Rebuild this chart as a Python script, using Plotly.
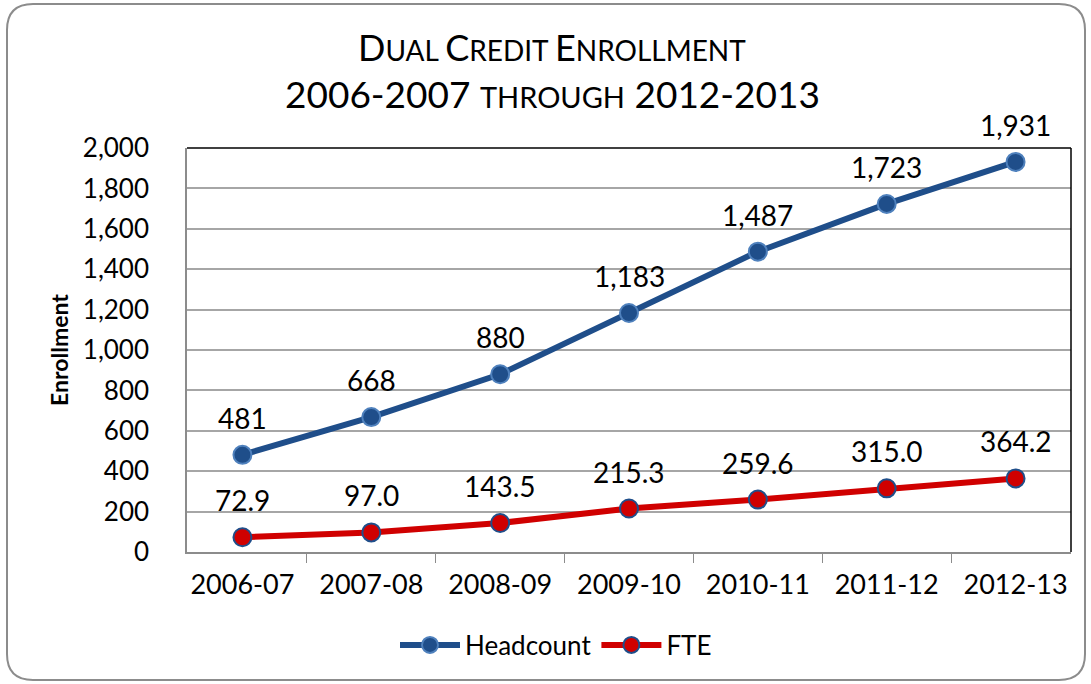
import plotly.graph_objects as go

years = ["2006-07", "2007-08", "2008-09", "2009-10", "2010-11", "2011-12", "2012-13"]
headcount = [481, 668, 880, 1183, 1487, 1723, 1931]
fte = [72.9, 97.0, 143.5, 215.3, 259.6, 315.0, 364.2]
y_ticks = [0, 200, 400, 600, 800, 1000, 1200, 1400, 1600, 1800, 2000]

FONT = "Lato, 'Noto Sans', sans-serif"
BLUE = "#1F4E8A"
BLUE_EDGE = "#4F81BD"
RED = "#D00000"

W, H = 1091, 684
L, R, T, B = 187, 20, 148, 132
pw, ph = W - L - R, H - T - B


def px(x):
    return (x - L) / pw


def py(y):
    return (H - B - y) / ph


fig = go.Figure()
fig.add_trace(go.Scatter(
    x=years, y=headcount, name="Headcount", mode="lines+markers",
    line=dict(color=BLUE, width=6),
    marker=dict(size=18, color=BLUE, line=dict(color=BLUE_EDGE, width=2)),
))
fig.add_trace(go.Scatter(
    x=years, y=fte, name="FTE", mode="lines+markers",
    line=dict(color=RED, width=6),
    marker=dict(size=18, color=RED, line=dict(color=BLUE, width=2)),
))

for yr, v in zip(years, headcount):
    fig.add_annotation(x=yr, y=v, text=f"{v:,}", showarrow=False,
                       yshift=37, font=dict(size=28, color="black", family=FONT))
for yr, v in zip(years, fte):
    fig.add_annotation(x=yr, y=v, text=f"{v:.1f}", showarrow=False,
                       yshift=37, font=dict(size=28, color="black", family=FONT))

# rounded outer frame
x0, x1, y0, y1, r = 7, 1085, 4, 680, 26
rx, ry = r / pw, r / ph
path = (
    f"M {px(x0) + rx},{py(y0)} L {px(x1) - rx},{py(y0)} "
    f"Q {px(x1)},{py(y0)} {px(x1)},{py(y0) - ry} "
    f"L {px(x1)},{py(y1) + ry} Q {px(x1)},{py(y1)} {px(x1) - rx},{py(y1)} "
    f"L {px(x0) + rx},{py(y1)} Q {px(x0)},{py(y1)} {px(x0)},{py(y1) + ry} "
    f"L {px(x0)},{py(y0) - ry} Q {px(x0)},{py(y0)} {px(x0) + rx},{py(y0)} Z"
)
fig.add_shape(type="path", path=path, xref="paper", yref="paper",
              line=dict(color="#8C8C8C", width=2), layer="below")
# dark top and right edges of the plot area
fig.add_shape(type="line", xref="paper", yref="paper", x0=0, x1=1, y0=1, y1=1,
              line=dict(color="black", width=1.5))
fig.add_shape(type="line", xref="paper", yref="paper", x0=1, x1=1, y0=0, y1=1,
              line=dict(color="black", width=1.5))

# two-line small-caps title
BIG1, BIG2 = 36, 37
title1 = (f"<span style='font-size:{BIG1}px'>D</span>UAL "
          f"<span style='font-size:{BIG1}px'>C</span>REDIT "
          f"<span style='font-size:{BIG1}px'>E</span>NROLLMENT")
title2 = (f"<span style='font-size:{BIG2}px'>2006-2007 </span>THROUGH"
          f"<span style='font-size:{BIG2}px'> 2012-2013</span>")
fig.add_annotation(text=title1, xref="paper", yref="paper", x=px(552), y=py(47),
                   showarrow=False, font=dict(size=28, color="black", family=FONT),
                   xanchor="center", yanchor="middle")
fig.add_annotation(text=title2, xref="paper", yref="paper", x=px(552), y=py(93),
                   showarrow=False, font=dict(size=29, color="black", family=FONT),
                   xanchor="center", yanchor="middle")

fig.update_layout(
    width=W, height=H,
    margin=dict(l=L, r=R, t=T, b=B),
    paper_bgcolor="white", plot_bgcolor="white",
    font=dict(family=FONT, color="black"),
    showlegend=True,
    legend=dict(orientation="h", x=px(556), y=py(645), xanchor="center", yanchor="middle",
                font=dict(size=26, family=FONT), itemwidth=60),
    xaxis=dict(
        type="category", tickson="boundaries", ticks="outside", ticklen=9,
        tickcolor="#8C8C8C", showline=True, linecolor="#8C8C8C", linewidth=1.5,
        showgrid=False, tickfont=dict(size=27), ticklabelstandoff=8,
    ),
    yaxis=dict(
        range=[0, 2000], tickvals=y_ticks, tickformat=",", showgrid=True,
        gridcolor="#A6A6A6", gridwidth=1.5, showline=True, linecolor="#8C8C8C",
        linewidth=1.5, tickfont=dict(size=26), zeroline=False, ticks="",
        ticklabelstandoff=31,
        title=dict(text="<b>Enrollment</b>", font=dict(size=23), standoff=8),
    ),
)

fig.write_html("out.html")
